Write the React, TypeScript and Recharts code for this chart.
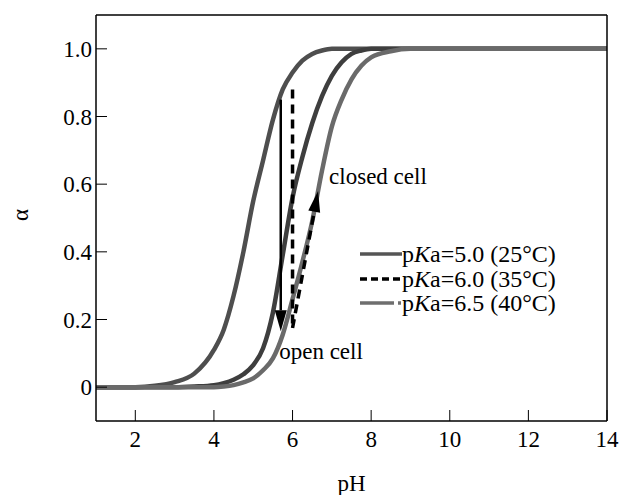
import React from 'react';
import { LineChart, Line, XAxis, YAxis, ReferenceLine, ReferenceDot, Legend } from 'recharts';

// pH grid and degree of dissociation
const phValues = [1, 2, 2.5, 3, 3.5, 4, 4.25, 4.5, 4.75, 5, 5.25, 5.5, 5.75, 6, 6.25, 6.5, 6.75, 7, 7.25, 7.5, 7.75, 8, 8.5, 9, 10, 12, 14];
const alphaPka50 = [0, 0, 0.004, 0.015, 0.04, 0.11, 0.17, 0.27, 0.4, 0.55, 0.67, 0.79, 0.88, 0.93, 0.965, 0.985, 0.995, 1, 1, 1, 1, 1, 1, 1, 1, 1, 1];
const alphaPka60 = [0, 0, 0, 0, 0.002, 0.006, 0.012, 0.022, 0.038, 0.065, 0.115, 0.22, 0.39, 0.56, 0.68, 0.78, 0.86, 0.92, 0.96, 0.985, 0.995, 1, 1, 1, 1, 1, 1];
const alphaPka65 = [0, 0, 0, 0, 0, 0, 0.002, 0.006, 0.014, 0.026, 0.05, 0.085, 0.155, 0.26, 0.37, 0.49, 0.64, 0.77, 0.85, 0.91, 0.95, 0.975, 0.993, 1, 1, 1, 1];

const xTicks = [2, 4, 6, 8, 10, 12, 14];
const yTicks = [0, 0.2, 0.4, 0.6, 0.8, 1.0];
const yTickLabels = ['0', '0.2', '0.4', '0.6', '0.8', '1.0'];

const legendPka = ['5.0', '6.0', '6.5'];
const legendTemp = ['25', '35', '40'];

// switching arrows (pH, alpha)
const openArrow = [{ x: 5.7, y: 0.85 }, { x: 5.7, y: 0.165 }];
const dashedDrop = [{ x: 6.0, y: 0.88 }, { x: 6.0, y: 0.18 }];
const closeArrow = [{ x: 6.0, y: 0.175 }, { x: 6.65, y: 0.58 }];
const closedCellAt = { x: 6.93, y: 0.626 };
const openCellAt = { x: 5.66, y: 0.108 };

const data = phValues.map((pH, i) => ({
  pH,
  a50: alphaPka50[i],
  a60: alphaPka60[i],
  a65: alphaPka65[i],
}));

const FONT = '"Liberation Serif", "Times New Roman", serif';
const FS = 23;

const arrow = (dashed: boolean, head: boolean) => (p: any) => {
  const { x1, y1, x2, y2 } = p;
  const dx = x2 - x1;
  const dy = y2 - y1;
  const len = Math.hypot(dx, dy) || 1;
  const ux = dx / len;
  const uy = dy / len;
  const hl = head ? 21 : 0;
  const hw = 6;
  const bx = x2 - ux * hl;
  const by = y2 - uy * hl;
  return (
    <g>
      <line
        x1={x1}
        y1={y1}
        x2={bx}
        y2={by}
        stroke="#000"
        strokeWidth={dashed ? 3.5 : 2.5}
        strokeDasharray={dashed ? '9 6' : undefined}
      />
      {head && (
        <polygon
          points={`${x2},${y2} ${bx - uy * hw},${by + ux * hw} ${bx + uy * hw},${by - ux * hw}`}
          fill="#000"
        />
      )}
    </g>
  );
};

const LegendBox = () => {
  const colors = ['#555555', '#000000', '#6e6e6e'];
  return (
    <div style={{ fontFamily: FONT, fontSize: 24, lineHeight: '24.5px', color: '#000' }}>
      {legendPka.map((k, i) => (
        <div key={k} style={{ display: 'flex', alignItems: 'center', height: 24.5, whiteSpace: 'nowrap' }}>
          <svg width={42} height={24} style={{ display: 'block' }}>
            {i === 2 ? (
              <>
                <line x1={0} y1={12} x2={34} y2={12} stroke={colors[i]} strokeWidth={3.5} />
                <line x1={38} y1={12} x2={41} y2={12} stroke={colors[i]} strokeWidth={3.5} />
              </>
            ) : (
              <line
                x1={0}
                y1={12}
                x2={42}
                y2={12}
                stroke={colors[i]}
                strokeWidth={3.5}
                strokeDasharray={i === 1 ? '7 4' : undefined}
              />
            )}
          </svg>
          <span>
            p<i>K</i>a={k} ({legendTemp[i]}°C)
          </span>
        </div>
      ))}
    </div>
  );
};

export default function App() {
  const tickStyle = { fill: '#000', fontSize: FS, fontFamily: FONT };
  const frame = { stroke: '#000', strokeWidth: 1.5 };
  return (
    <div className="ph-chart" style={{ width: 621, height: 495, fontFamily: FONT, position: 'relative' }}>
      <style>{`html, body { margin: 0; overflow: hidden; } .ph-chart text, .ph-chart tspan { font-family: ${FONT} !important; }`}</style>
      <LineChart width={621} height={495} data={data} margin={{ top: 14, right: 13, left: 0, bottom: 0 }}>
        <XAxis
          dataKey="pH"
          type="number"
          domain={[1, 14]}
          ticks={xTicks}
          allowDataOverflow
          height={74}
          tick={tickStyle}
          tickSize={-11}
          tickMargin={21}
          axisLine={frame}
          tickLine={{ stroke: '#000' }}
          label={{
            content: (props: any) => {
              const vb = props.viewBox;
              return (
                <text x={vb.x + vb.width / 2} y={vb.y + 62} textAnchor="middle" dominantBaseline="central" fontSize={FS} fontFamily={FONT} fill="#000">
                  pH
                </text>
              );
            },
          }}
        />
        <XAxis xAxisId="top" orientation="top" type="number" domain={[1, 14]} ticks={xTicks} height={1} tick={false} tickSize={-11} axisLine={frame} tickLine={{ stroke: '#000' }} />
        <YAxis
          type="number"
          domain={[-0.1, 1.1]}
          ticks={yTicks}
          allowDataOverflow
          width={96}
          tick={tickStyle}
          tickFormatter={(v: number) => yTickLabels[yTicks.indexOf(v)] ?? String(v)}
          tickSize={-11}
          tickMargin={15}
          axisLine={frame}
          tickLine={{ stroke: '#000' }}
          label={{
            content: (props: any) => {
              const vb = props.viewBox;
              const cx = 20;
              const cy = vb.y + vb.height / 2 - 3;
              return (
                <text x={cx} y={cy} transform={`rotate(-90, ${cx}, ${cy})`} textAnchor="middle" dominantBaseline="central" fontSize={FS} fontFamily={FONT} fill="#000">
                  α
                </text>
              );
            },
          }}
        />
        <YAxis yAxisId="right" orientation="right" type="number" domain={[-0.1, 1.1]} ticks={yTicks} width={1} tick={false} tickSize={-11} axisLine={frame} tickLine={{ stroke: '#000' }} />

        <Line type="monotone" dataKey="a50" stroke="#4e4e4e" strokeWidth={4.5} dot={false} isAnimationActive={false} />
        <Line type="monotone" dataKey="a60" stroke="#3e3e3e" strokeWidth={4.5} dot={false} isAnimationActive={false} />
        <Line type="monotone" dataKey="a65" stroke="#6a6a6a" strokeWidth={4.5} dot={false} isAnimationActive={false} />

        <ReferenceLine segment={openArrow} shape={arrow(false, true)} />
        <ReferenceLine segment={dashedDrop} shape={arrow(true, false)} />
        <ReferenceLine segment={closeArrow} shape={arrow(true, true)} />

        <ReferenceDot
          x={closedCellAt.x}
          y={closedCellAt.y}
          r={0}
          stroke="none"
          fill="none"
          label={{ value: 'closed cell', position: 'right', offset: 0, fill: '#000', fontSize: FS, fontFamily: FONT }}
        />
        <ReferenceDot
          x={openCellAt.x}
          y={openCellAt.y}
          r={0}
          stroke="none"
          fill="none"
          label={{ value: 'open cell', position: 'right', offset: 0, fill: '#000', fontSize: FS, fontFamily: FONT }}
        />

        <Legend
          layout="horizontal"
          verticalAlign="middle"
          align="center"
          content={() => <LegendBox />}
          wrapperStyle={{ left: 360, top: 242, width: 'auto' }}
        />
      </LineChart>
    </div>
  );
}
